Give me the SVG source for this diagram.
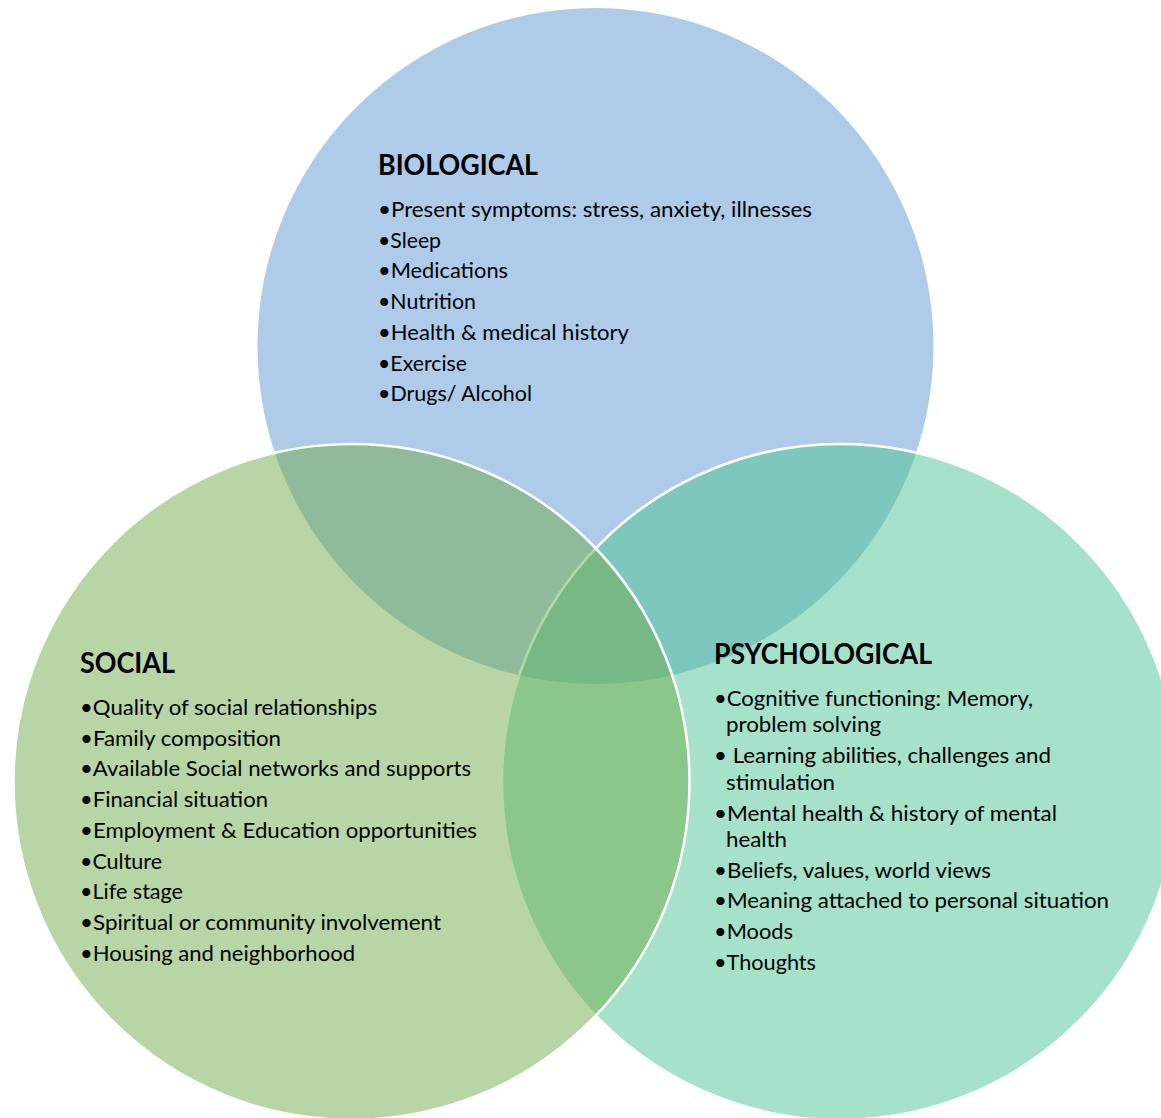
<svg xmlns="http://www.w3.org/2000/svg" width="1161" height="1118" viewBox="0 0 1161 1118">
  <style>
    .ring { fill-opacity: 0.5; }
    .edge { stroke: #ffffff; stroke-width: 2.5; }
    .head { font-family: Lato, "Open Sans", "Liberation Sans", sans-serif; font-weight: bold; font-size: 28px; fill: #000000; }
    .item { font-family: Lato, "Open Sans", "Liberation Sans", sans-serif; font-size: 21px; fill: #000000; }
  </style>
  <rect width="1161" height="1118" fill="#ffffff"/>

  <!-- Biological circle (no outline) -->
  <g id="biological">
    <circle class="ring" cx="595.5" cy="346" r="338" fill="#5d97d3"/>
    <text class="head" x="378" y="175" textLength="160" lengthAdjust="spacingAndGlyphs">BIOLOGICAL</text>
    <text class="item" x="378" y="217" textLength="434" lengthAdjust="spacingAndGlyphs">•Present symptoms: stress, anxiety, illnesses</text>
    <text class="item" x="378" y="247.5" textLength="63" lengthAdjust="spacingAndGlyphs">•Sleep</text>
    <text class="item" x="378" y="278" textLength="130" lengthAdjust="spacingAndGlyphs">•Medications</text>
    <text class="item" x="378" y="309" textLength="98" lengthAdjust="spacingAndGlyphs">•Nutrition</text>
    <text class="item" x="378" y="339.5" textLength="251" lengthAdjust="spacingAndGlyphs">•Health &amp; medical history</text>
    <text class="item" x="378" y="370.5" textLength="89" lengthAdjust="spacingAndGlyphs">•Exercise</text>
    <text class="item" x="378" y="401" textLength="154" lengthAdjust="spacingAndGlyphs">•Drugs/ Alcohol</text>
  </g>

  <!-- Psychological circle -->
  <g id="psychological">
    <circle class="ring edge" cx="840" cy="782" r="338" fill="#4dc393"/>
    <text class="head" x="714" y="664" textLength="218" lengthAdjust="spacingAndGlyphs">PSYCHOLOGICAL</text>
    <text class="item" x="714" y="706" textLength="319" lengthAdjust="spacingAndGlyphs">•Cognitive functioning: Memory,</text>
    <text class="item" x="726" y="732" textLength="155" lengthAdjust="spacingAndGlyphs">problem solving</text>
    <text class="item" x="714" y="763" textLength="337" lengthAdjust="spacingAndGlyphs">• Learning abilities, challenges and</text>
    <text class="item" x="726" y="789.5" textLength="109" lengthAdjust="spacingAndGlyphs">stimulation</text>
    <text class="item" x="714" y="820.5" textLength="343" lengthAdjust="spacingAndGlyphs">•Mental health &amp; history of mental</text>
    <text class="item" x="726" y="847" textLength="61" lengthAdjust="spacingAndGlyphs">health</text>
    <text class="item" x="714" y="877.5" textLength="277" lengthAdjust="spacingAndGlyphs">•Beliefs, values, world views</text>
    <text class="item" x="714" y="908" textLength="395" lengthAdjust="spacingAndGlyphs">•Meaning attached to personal situation</text>
    <text class="item" x="714" y="938.5" textLength="79" lengthAdjust="spacingAndGlyphs">•Moods</text>
    <text class="item" x="714" y="969.5" textLength="102" lengthAdjust="spacingAndGlyphs">•Thoughts</text>
  </g>

  <!-- Social circle -->
  <g id="social">
    <circle class="ring edge" cx="351.5" cy="782" r="338" fill="#6fab4b"/>
    <text class="head" x="80" y="673" textLength="95" lengthAdjust="spacingAndGlyphs">SOCIAL</text>
    <text class="item" x="80" y="715" textLength="297" lengthAdjust="spacingAndGlyphs">•Quality of social relationships</text>
    <text class="item" x="80" y="745.5" textLength="201" lengthAdjust="spacingAndGlyphs">•Family composition</text>
    <text class="item" x="80" y="776" textLength="391" lengthAdjust="spacingAndGlyphs">•Available Social networks and supports</text>
    <text class="item" x="80" y="807" textLength="188" lengthAdjust="spacingAndGlyphs">•Financial situation</text>
    <text class="item" x="80" y="837.5" textLength="397" lengthAdjust="spacingAndGlyphs">•Employment &amp; Education opportunities</text>
    <text class="item" x="80" y="868.5" textLength="82" lengthAdjust="spacingAndGlyphs">•Culture</text>
    <text class="item" x="80" y="899" textLength="103" lengthAdjust="spacingAndGlyphs">•Life stage</text>
    <text class="item" x="80" y="929.5" textLength="361" lengthAdjust="spacingAndGlyphs">•Spiritual or community involvement</text>
    <text class="item" x="80" y="960.5" textLength="275" lengthAdjust="spacingAndGlyphs">•Housing and neighborhood</text>
  </g>
</svg>
